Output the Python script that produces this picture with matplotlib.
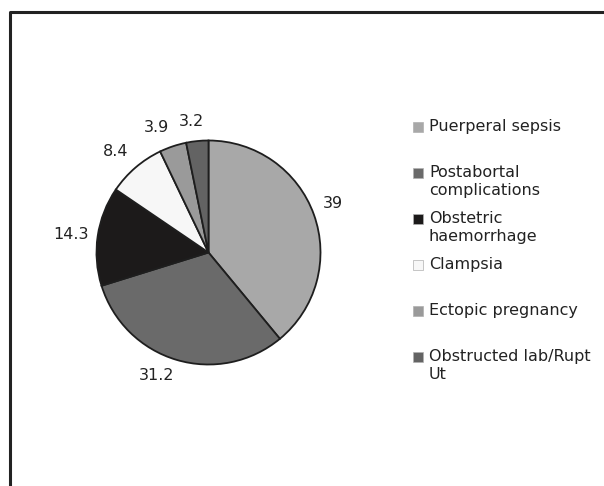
import numpy as np
import matplotlib
matplotlib.use("Agg")
import matplotlib.pyplot as plt
from matplotlib.patches import Rectangle

categories = ["Puerperal sepsis", "Postabortal\ncomplications", "Obstetric\nhaemorrhage",
              "Clampsia", "Ectopic pregnancy", "Obstructed lab/Rupt\nUt"]
values = [39, 31.2, 14.3, 8.4, 3.9, 3.2]
value_labels = ["39", "31.2", "14.3", "8.4", "3.9", "3.2"]
colors = ["#a8a8a8", "#6a6a6a", "#1c1a1a", "#f7f7f7", "#9a9a9a", "#636363"]

W, H = 604, 486
fig = plt.figure(figsize=(W / 100, H / 100), dpi=100)
ax = fig.add_axes([0, 0, 1, 1])

# frame (top and left edges visible)
ax.plot([10, 10, W + 5], [-5, H - 12, H - 12], color="#222222", lw=2.2, solid_capstyle="butt")

cx, cy, r = 208.5, H - 252.5, 112
wedges, _ = ax.pie(values, colors=colors, startangle=90, counterclock=False,
                   center=(cx, cy), radius=r, frame=True,
                   wedgeprops=dict(edgecolor="#1e1e1e", linewidth=1.3))
ax.set_xlim(0, W)
ax.set_ylim(0, H)
ax.set_aspect("equal")
ax.axis("off")

fs = 11.5
for w, lab in zip(wedges, value_labels):
    ang = np.deg2rad((w.theta1 + w.theta2) / 2)
    c, s = np.cos(ang), np.sin(ang)
    gap = 8 + 4 * max(s, 0)
    x, y = cx + (r + gap) * c, cy + (r + gap) * s
    ha = "left" if c > 0.2 else ("right" if c < -0.2 else "center")
    va = "bottom" if s > 0.3 else ("top" if s < -0.3 else "center")
    if ha == "center" and c < 0:
        x -= 5
    ax.text(x, y, lab, ha=ha, va=va, fontsize=fs, color="#222222")

# legend (Excel style: square aligned with first line, equal step)
lx, ly0, step, sq = 413, H - 122, 46, 10
for i, (lab, col) in enumerate(zip(categories, colors)):
    ytop = ly0 - i * step
    ax.add_patch(Rectangle((lx, ytop - sq), sq, sq, facecolor=col,
                           edgecolor="#b0b0b0", lw=0.5))
    ax.text(lx + 16, ytop + 3, lab, ha="left", va="top", fontsize=fs,
            color="#222222", linespacing=1.22)

fig.savefig("out.png", dpi=100)
